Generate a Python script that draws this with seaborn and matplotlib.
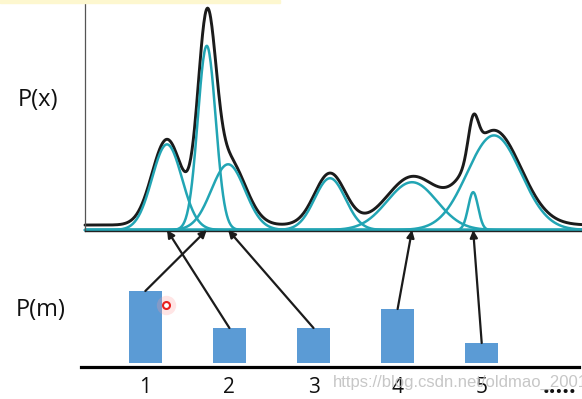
# plot.py
# Gaussian mixture sketch: P(x) as a sum of components (top) and
# the mixing weights P(m) as bars (bottom), with arrows linking them.

import numpy as np
import pandas as pd
import matplotlib
matplotlib.use('Agg')
import matplotlib.pyplot as plt
from matplotlib.patches import ConnectionPatch, Rectangle
import seaborn as sns

# ── Data ──────────────────────────────────────────────────────
comp_mean  = [16.5, 24.5, 28.8, 49.3, 65.8, 78.1, 82.3]
comp_sigma = [3.0, 1.8, 3.4, 3.1, 5.0, 1.0, 5.4]
comp_amp   = [0.86, 1.85, 0.66, 0.52, 0.48, 0.38, 0.95]
total_lift = 0.05

m_labels = ["1", "2", "3", "4", "5"]
p_m      = [0.72, 0.35, 0.35, 0.54, 0.20]
arrow_to = [1, 0, 2, 4, 5]          # bar i points at component arrow_to[i]

WATERMARK = "https://blog.csdn.net/oldmao_2001"

# ── Style ─────────────────────────────────────────────────────
TEAL  = '#22a5b4'
BLACK = '#1b1b1b'
BLUE  = '#5b9bd5'

sns.set_style("white")
plt.rcParams['font.family'] = ['Open Sans', 'DejaVu Sans']

fig = plt.figure(figsize=(5.82, 3.99), dpi=100)
ax_top = fig.add_axes([85 / 582, 1 - 231 / 399, 497 / 582, 231 / 399])
ax_bot = fig.add_axes([81 / 582, 32 / 399, 498 / 582, 122 / 399])

# ── Top panel: mixture components and total ──────────────────
x = np.linspace(0, 100, 800)
frames = []
for k, (mu, sd, a) in enumerate(zip(comp_mean, comp_sigma, comp_amp)):
    frames.append(pd.DataFrame({"x": x, "y": a * np.exp(-0.5 * ((x - mu) / sd) ** 2), "comp": k}))
comps = pd.concat(frames, ignore_index=True)
total = comps.groupby("x", as_index=False)["y"].sum()
total["y"] += total_lift

sns.lineplot(data=total, x="x", y="y", color=BLACK, linewidth=2.1, ax=ax_top, sort=False)
sns.lineplot(data=comps, x="x", y="y", hue="comp", palette=[TEAL] * len(comp_mean),
             linewidth=1.8, legend=False, ax=ax_top, sort=False)
for ln in ax_top.lines:
    ln.set_clip_on(False)

ax_top.set_xlim(0, 100)
ax_top.set_ylim(-0.01, 2.31)
ax_top.set_xticks([])
ax_top.set_yticks([])
ax_top.set_xlabel("")
ax_top.set_ylabel("")
for s in ["top", "right"]:
    ax_top.spines[s].set_visible(False)
ax_top.spines["left"].set_color('#555555')
ax_top.spines["left"].set_linewidth(0.9)
ax_top.spines["bottom"].set_color('#222222')
ax_top.spines["bottom"].set_linewidth(1.0)
ax_top.patch.set_alpha(0)

# ── Bottom panel: mixing weights ──────────────────────────────
sns.barplot(x=m_labels, y=p_m, color=BLUE, saturation=1, width=0.39,
            edgecolor='none', ax=ax_bot)
ax_bot.set_xlim(-0.765, 5.157)
ax_bot.set_ylim(-0.04, 1.18)
ax_bot.set_yticks([])
ax_bot.set_xlabel("")
ax_bot.set_ylabel("")
ax_bot.tick_params(axis='x', length=0, pad=7, labelsize=15, labelcolor='#111111')
for s in ["top", "right", "left"]:
    ax_bot.spines[s].set_visible(False)
ax_bot.spines["bottom"].set_color('black')
ax_bot.spines["bottom"].set_linewidth(2.3)
ax_bot.patch.set_alpha(0)

# arrows from each bar top to its component on the x baseline
for i, k in enumerate(arrow_to):
    con = ConnectionPatch(xyA=(i, p_m[i]), coordsA=ax_bot.transData,
                          xyB=(comp_mean[k], 0), coordsB=ax_top.transData,
                          arrowstyle='-|>', mutation_scale=11, color=BLACK,
                          linewidth=1.6, shrinkA=0, shrinkB=0)
    fig.add_artist(con)

# ── Labels and decorations ────────────────────────────────────
fig.text(38 / 582, 1 - 100 / 399, "P(x)", fontsize=17, ha='center', va='center', color='#111111')
fig.text(41 / 582, 1 - 310 / 399, "P(m)", fontsize=17, ha='center', va='center', color='#111111')
fig.text(559 / 582, 1 - 393 / 399, ".....", fontsize=17, ha='center', va='baseline',
         color='#111111', fontweight='bold')
fig.text(333 / 582, 1 - 382 / 399, WATERMARK, fontsize=12, ha='left', va='center',
         color='#bdbdbd', alpha=0.85, family=['Liberation Sans', 'DejaVu Sans'], zorder=10)

# cursor mark left on the screenshot
ax_bot.plot([0.25], [0.58], 'o', ms=14, color='#ff9a9a', alpha=0.25, mec='none', clip_on=False)
ax_bot.plot([0.25], [0.58], 'o', ms=5, mfc='white', mec='#e82020', mew=1.5, clip_on=False)

# pale yellow strip at the very top
fig.patches.append(Rectangle((0, 1 - 3 / 399), 280 / 582, 3 / 399, transform=fig.transFigure,
                             color='#fdf7cf', zorder=0))

fig.savefig("out.png", dpi=100)
